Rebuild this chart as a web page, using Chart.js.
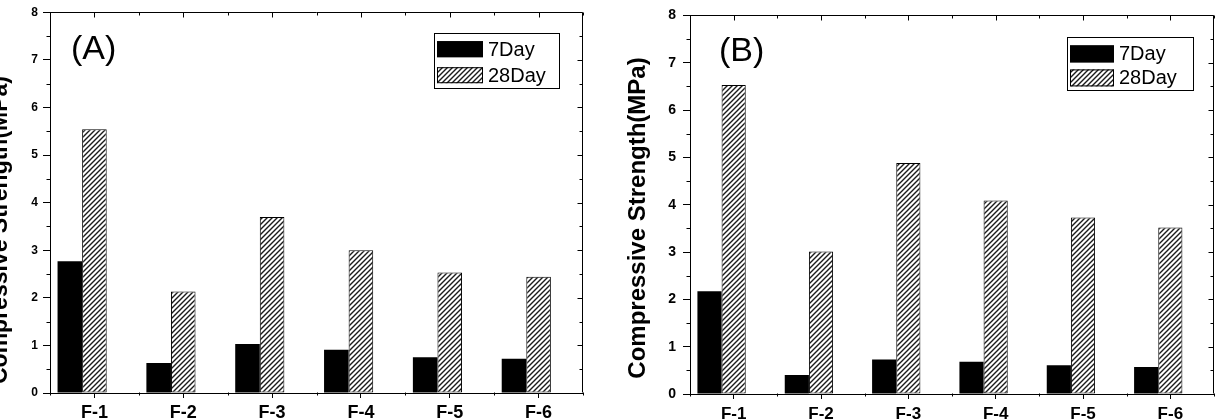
<!DOCTYPE html>
<html>
<head>
<meta charset="utf-8">
<script src="https://cdn.jsdelivr.net/npm/chart.js@4.4.1/dist/chart.umd.min.js"></script>
<style>
  body { margin: 0; background: #fff; width: 1216px; height: 420px; overflow: hidden; position: relative; }
  .panel { position: absolute; top: 0; width: 608px; height: 420px; }
  #wrapA { left: 0; }
  #wrapB { left: 608px; }
</style>
</head>
<body>
<div class="panel" id="wrapA"><canvas id="chartA" width="608" height="420"></canvas></div>
<div class="panel" id="wrapB"><canvas id="chartB" width="608" height="420"></canvas></div>
<script>
// data
var categories = ['F-1', 'F-2', 'F-3', 'F-4', 'F-5', 'F-6'];
var seriesNames = ['7Day', '28Day'];
var yTicks = [0, 1, 2, 3, 4, 5, 6, 7, 8];

var strengthA7 = [2.77, 0.63, 1.03, 0.91, 0.75, 0.72];
var strengthA28 = [5.54, 2.13, 3.70, 3.00, 2.53, 2.44];
var strengthB7 = [2.17, 0.40, 0.73, 0.68, 0.61, 0.57];
var strengthB28 = [6.53, 3.01, 4.88, 4.09, 3.73, 3.52];
// empty third slot so the hatched bar sits on the tick, like the original
var spacer = [null, null, null, null, null, null];

var FONT = '"Liberation Sans", Arial, sans-serif';
Chart.defaults.font.family = FONT;
Chart.defaults.color = '#000';

function makeHatch() {
  var c = document.createElement('canvas');
  c.width = 5; c.height = 5;
  var g = c.getContext('2d');
  g.fillStyle = '#fff';
  g.fillRect(0, 0, 5, 5);
  g.strokeStyle = '#1a1a1a';
  g.lineWidth = 1.4;
  g.beginPath();
  g.moveTo(0, 5); g.lineTo(5, 0);
  g.moveTo(-1, 1); g.lineTo(1, -1);
  g.moveTo(4, 6); g.lineTo(6, 4);
  g.stroke();
  return g.createPattern(c, 'repeat');
}
var hatch = makeHatch();

// frame, mirrored ticks and minor ticks
var framePlugin = {
  id: 'frame',
  afterDraw: function (chart) {
    var a = chart.chartArea, ctx = chart.ctx;
    var x = chart.scales.x, y = chart.scales.y;
    ctx.save();
    ctx.strokeStyle = '#000';
    ctx.lineWidth = 1;
    ctx.beginPath();
    var L = Math.round(a.left) + 0.5, R = Math.round(a.right) - 0.5;
    var T = Math.round(a.top) + 0.5, B = Math.round(a.bottom) - 0.5;
    ctx.moveTo(L, T); ctx.lineTo(R, T); ctx.lineTo(R, B);
    for (var v = 0; v <= yTicks[yTicks.length - 1]; v += 0.5) {
      var py = Math.round(y.getPixelForValue(v)) + 0.5;
      var major = v % 1 === 0;
      if (!major) { ctx.moveTo(L, py); ctx.lineTo(L - 4, py); }
      ctx.moveTo(R, py); ctx.lineTo(R - (major ? 5 : 3), py);
    }
    for (var i = 0; i < categories.length; i++) {
      var cx = Math.round(x.getPixelForValue(i)) + 0.5;
      ctx.moveTo(cx, T); ctx.lineTo(cx, T + 5);
    }
    for (var j = 0; j <= categories.length; j++) {
      var bx = Math.round(x.getPixelForValue(j - 0.5)) + 0.5;
      ctx.moveTo(bx, B); ctx.lineTo(bx, B + 3);
      ctx.moveTo(bx, T); ctx.lineTo(bx, T + 3);
    }
    ctx.stroke();
    ctx.restore();
  }
};

// boxed legend inside the plot, panel letter and the y title
var annotatePlugin = {
  id: 'annotate',
  afterDraw: function (chart, args, o) {
    var a = chart.chartArea, ctx = chart.ctx;
    ctx.save();
    // legend box
    var bx = a.right - o.legendRight - o.legendW, by = a.top + o.legendTop;
    ctx.strokeStyle = '#000';
    ctx.lineWidth = 1;
    ctx.fillStyle = '#fff';
    ctx.fillRect(bx, by, o.legendW, o.legendH);
    ctx.strokeRect(Math.round(bx) + 0.5, Math.round(by) + 0.5, o.legendW, o.legendH);
    ctx.font = o.legendFont + 'px ' + FONT;
    ctx.textBaseline = 'middle';
    var items = chart.data.datasets.filter(function (d) { return d.label; });
    items.forEach(function (d, k) {
      var sy = by + o.rowTop[k];
      ctx.fillStyle = d.backgroundColor;
      ctx.fillRect(bx + 3, sy, o.swW, o.swH);
      ctx.strokeStyle = '#000';
      ctx.strokeRect(bx + 3.5, sy + 0.5, o.swW - 1, o.swH - 1);
      ctx.fillStyle = '#000';
      ctx.fillText(d.label, bx + 3 + o.swW + 5, sy + o.swH / 2 + 1);
    });
    // panel letter
    ctx.font = o.tagFont + 'px ' + FONT;
    ctx.textBaseline = 'middle';
    ctx.fillText(o.tag, a.left + o.tagX, a.top + o.tagY);
    // y title
    ctx.translate(o.titleX, o.titleY);
    ctx.rotate(-Math.PI / 2);
    ctx.font = 'bold ' + o.titleFont + 'px ' + FONT;
    ctx.textAlign = 'center';
    ctx.fillText('Compressive Strength(MPa)', 0, 0);
    ctx.restore();
  }
};

function buildChart(id, v7, v28, s) {
  return new Chart(document.getElementById(id), {
    type: 'bar',
    data: {
      labels: categories,
      datasets: [
        { label: seriesNames[0], data: v7, backgroundColor: '#000', borderWidth: 0 },
        { label: seriesNames[1], data: v28, backgroundColor: hatch, borderColor: '#000', borderWidth: 1, borderSkipped: false },
        { data: spacer, backgroundColor: 'rgba(0,0,0,0)' }
      ]
    },
    options: {
      responsive: false,
      animation: false,
      devicePixelRatio: 1,
      layout: { padding: { top: 9, right: s.padRight, bottom: 0, left: 0 } },
      datasets: { bar: { categoryPercentage: 0.83, barPercentage: 1 } },
      plugins: {
        legend: { display: false },
        tooltip: { enabled: false },
        annotate: s.annotate
      },
      scales: {
        x: {
          offset: true,
          grid: { display: true, drawOnChartArea: false, offset: false, tickLength: 5, color: '#000' },
          border: { display: true, color: '#000', width: 1 },
          ticks: { font: { size: s.xFont, weight: 'bold' }, padding: s.xPad, color: '#000', maxRotation: 0 },
          afterFit: function (sc) { sc.height = s.xHeight; }
        },
        y: {
          min: yTicks[0],
          max: yTicks[yTicks.length - 1],
          afterBuildTicks: function (sc) { sc.ticks = yTicks.map(function (t) { return { value: t }; }); },
          grid: { display: true, drawOnChartArea: false, tickLength: 7, color: '#000' },
          border: { display: true, color: '#000', width: 1 },
          ticks: { font: { size: s.yFont, weight: 'bold' }, padding: s.yPad, color: '#000' },
          afterFit: function (sc) { sc.width = s.yWidth; }
        }
      }
    },
    plugins: [framePlugin, annotatePlugin]
  });
}

buildChart('chartA', strengthA7, strengthA28, {
  padRight: 25, xFont: 18, xPad: 4, xHeight: 27, yFont: 12, yPad: 5, yWidth: 50,
  annotate: {
    legendRight: 24, legendTop: 21, legendW: 125, legendH: 55, legendFont: 20,
    rowTop: [8, 34], swW: 46, swH: 16,
    tag: '(A)', tagFont: 34, tagX: 21, tagY: 37,
    titleX: 1, titleY: 230, titleFont: 23
  }
});

buildChart('chartB', strengthB7, strengthB28, {
  padRight: 2, xFont: 17, xPad: 5, xHeight: 26, yFont: 14, yPad: 7, yWidth: 82,
  annotate: {
    legendRight: 21, legendTop: 22, legendW: 126, legendH: 53, legendFont: 20,
    rowTop: [8, 32], swW: 44, swH: 17,
    tag: '(B)', tagFont: 34, tagX: 29, tagY: 36,
    titleX: 30, titleY: 218, titleFont: 24
  }
});
</script>
</body>
</html>
